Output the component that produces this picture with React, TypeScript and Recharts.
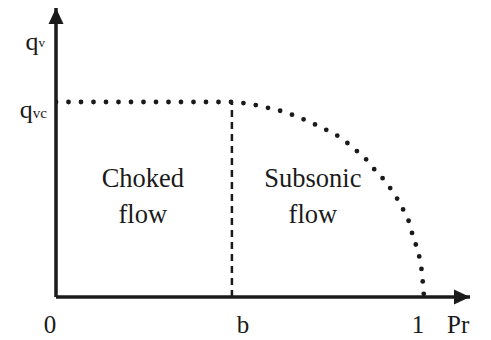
import React from "react";
import {
  ComposedChart,
  Line,
  XAxis,
  YAxis,
  ReferenceLine,
  ReferenceDot,
} from "recharts";

// Critical pressure ratio b and the axis extents (in Pr and q/qvc units)
const criticalRatio = 0.478;
const prMax = 1.125;
const qMax = 1.482;

// Flow-rate curve: constant (choked) up to b, then falling to zero at Pr = 1
const prValues = [
  0, 0.478, 0.508, 0.541, 0.576, 0.609, 0.641, 0.668, 0.698, 0.726, 0.758,
  0.785, 0.807, 0.832, 0.853, 0.871, 0.899, 0.916, 0.935, 0.948, 0.962, 0.97,
  0.981, 0.989, 0.994, 0.997, 1,
];
const flowValues = [
  1, 1, 0.995, 0.985, 0.97, 0.955, 0.935, 0.915, 0.89, 0.865, 0.835, 0.8,
  0.765, 0.725, 0.685, 0.64, 0.585, 0.535, 0.48, 0.43, 0.37, 0.31, 0.25, 0.19,
  0.13, 0.07, 0,
];

// Axis tick labels
const xTickValues = [0, criticalRatio, 1];
const xTickLabels = ["0", "b", "1"];
const xTickShift = [-6, 11, -6];
const yTickValues = [1];

// Region captions, positioned in data units
const regionNames = [
  { pr: 0.236, q: 0.564, lines: ["Choked", "flow"] },
  { pr: 0.698, q: 0.564, lines: ["Subsonic", "flow"] },
];
const qAxisNameLevel = 1.267;

const data = prValues.map((pr, i) => ({ pr, q: flowValues[i] }));

const FONT = "'Liberation Serif', 'DejaVu Serif', serif";
const INK = "#1a1a1a";

const XTick = (props: any) => {
  const { x, y, payload, index } = props;
  const i = xTickValues.indexOf(payload.value);
  return (
    <text
      x={x + (xTickShift[i] ?? 0)}
      y={y + 36}
      textAnchor="middle"
      fontFamily={FONT}
      fontSize={25}
      fill={INK}
    >
      {xTickLabels[i >= 0 ? i : index]}
    </text>
  );
};

const YTick = (props: any) => {
  const { x, y } = props;
  return (
    <text x={x - 9} y={y + 16} textAnchor="end" fontFamily={FONT} fontSize={26} fill={INK}>
      q<tspan fontSize={15}>vc</tspan>
    </text>
  );
};

const PrLabel = (props: any) => {
  const { viewBox } = props;
  if (!viewBox) return null;
  return (
    <text
      x={viewBox.x + viewBox.width - 23}
      y={viewBox.y + 36}
      textAnchor="start"
      fontFamily={FONT}
      fontSize={25}
      fill={INK}
    >
      Pr
    </text>
  );
};

const XArrow = (props: any) => {
  const { cx, cy } = props;
  return (
    <polygon
      points={`${cx},${cy} ${cx - 16},${cy - 7.5} ${cx - 16},${cy + 7.5}`}
      fill={INK}
    />
  );
};

const YArrow = (props: any) => {
  const { cx, cy } = props;
  return (
    <polygon
      points={`${cx},${cy} ${cx - 7.5},${cy + 16} ${cx + 7.5},${cy + 16}`}
      fill={INK}
    />
  );
};

const QAxisName = (props: any) => {
  const { cx, cy } = props;
  return (
    <text x={cx - 11} y={cy} textAnchor="end" fontFamily={FONT} fontSize={26} fill={INK}>
      q<tspan fontSize={13} dy={-3}>v</tspan>
    </text>
  );
};

const makeCaption = (lines: string[]) => (props: any) => {
  const { cx, cy } = props;
  return (
    <g>
      {lines.map((t, i) => (
        <text
          key={t}
          x={cx}
          y={cy + i * 36}
          textAnchor="middle"
          fontFamily={FONT}
          fontSize={26.5}
          fill={INK}
        >
          {t}
        </text>
      ))}
    </g>
  );
};

export default function App() {
  return (
    <div style={{ position: "absolute", left: 0, top: 0, background: "#fff" }}>
      <ComposedChart
        width={491}
        height={340}
        data={data}
        margin={{ top: 8, right: 21, left: 55, bottom: 0 }}
      >
        <XAxis
          dataKey="pr"
          type="number"
          domain={[0, prMax]}
          allowDataOverflow
          ticks={xTickValues}
          tick={<XTick />}
          tickLine={false}
          tickSize={0}
          tickMargin={0}
          height={43}
          axisLine={{ stroke: INK, strokeWidth: 3.5 }}
          label={<PrLabel />}
          interval={0}
        />
        <YAxis
          type="number"
          domain={[0, qMax]}
          allowDataOverflow
          ticks={yTickValues}
          tick={<YTick />}
          tickLine={false}
          tickSize={0}
          tickMargin={0}
          width={1}
          axisLine={{ stroke: INK, strokeWidth: 3.5 }}
          interval={0}
        />
        <ReferenceLine
          segment={[
            { x: criticalRatio, y: 0 },
            { x: criticalRatio, y: 1 },
          ]}
          stroke={INK}
          strokeWidth={2.5}
          strokeDasharray="7 5"
        />
        <Line
          dataKey="q"
          type="monotone"
          stroke={INK}
          strokeWidth={4.8}
          strokeLinecap="round"
          strokeDasharray="0 12.5"
          dot={false}
          activeDot={false}
          isAnimationActive={false}
        />
        {regionNames.map((r) => (
          <ReferenceDot
            key={r.lines[0]}
            x={r.pr}
            y={r.q}
            ifOverflow="visible"
            shape={makeCaption(r.lines)}
          />
        ))}
        <ReferenceDot x={0} y={qAxisNameLevel} ifOverflow="visible" shape={<QAxisName />} />
        <ReferenceDot x={prMax} y={0} ifOverflow="visible" shape={<XArrow />} />
        <ReferenceDot x={0} y={qMax} ifOverflow="visible" shape={<YArrow />} />
      </ComposedChart>
    </div>
  );
}
